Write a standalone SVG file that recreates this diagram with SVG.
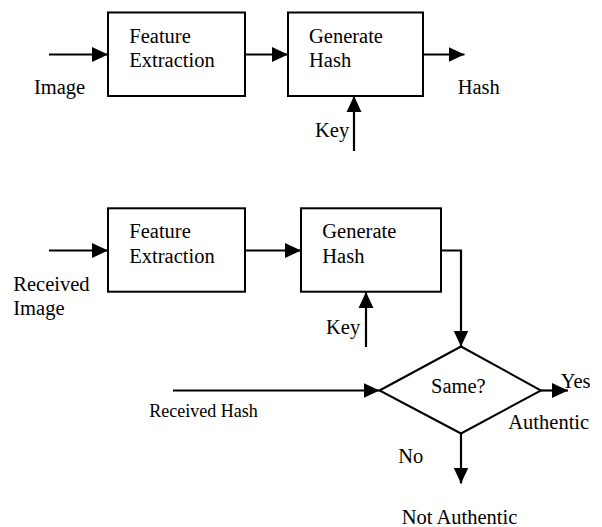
<svg xmlns="http://www.w3.org/2000/svg" width="602" height="527" viewBox="0 0 602 527">
  <style>
    .box { fill: #fff; stroke: #000; stroke-width: 2; }
    .wire { fill: none; stroke: #000; stroke-width: 2.2; }
    text { font-family: "Liberation Serif", "Times New Roman", serif; font-size: 20.5px; fill: #000; }
    .small { font-size: 18px; }
  </style>
  <defs>
    <marker id="head" markerUnits="userSpaceOnUse" markerWidth="16" markerHeight="16" viewBox="0 0 15 14" refX="15" refY="7" orient="auto">
      <path d="M0,0 L15,7 L0,14 z" fill="#000"/>
    </marker>
  </defs>

  <rect width="602" height="527" fill="#fff"/>

  <!-- hash generation -->
  <g id="feature-top">
    <rect class="box" x="108" y="12.5" width="137" height="83.5"/>
    <text x="129.3" y="42.7">Feature</text>
    <text x="129.3" y="66.7">Extraction</text>
  </g>
  <g id="hash-top">
    <rect class="box" x="288" y="12.5" width="135" height="83.5"/>
    <text x="309" y="42.7">Generate</text>
    <text x="309" y="66.7">Hash</text>
  </g>

  <!-- verification -->
  <g id="feature-bottom">
    <rect class="box" x="108" y="208.3" width="137" height="83.4"/>
    <text x="129.3" y="238.3">Feature</text>
    <text x="129.3" y="263.3">Extraction</text>
  </g>
  <g id="hash-bottom">
    <rect class="box" x="301" y="208.3" width="140" height="83.4"/>
    <text x="322.3" y="238.3">Generate</text>
    <text x="322.3" y="263.3">Hash</text>
  </g>
  <g id="compare">
    <polygon class="box" points="379.5,390.5 461,346.5 541,390.5 461,433.5"/>
    <text x="431" y="392.7">Same?</text>
  </g>

  <g id="connectors">
    <line class="wire" x1="49" y1="54.5" x2="108" y2="54.5" marker-end="url(#head)"/>
    <line class="wire" x1="245" y1="54.5" x2="288" y2="54.5" marker-end="url(#head)"/>
    <line class="wire" x1="423" y1="54.5" x2="464.5" y2="54.5" marker-end="url(#head)"/>
    <line class="wire" x1="354" y1="151" x2="354" y2="96" marker-end="url(#head)"/>

    <line class="wire" x1="49" y1="250.5" x2="108" y2="250.5" marker-end="url(#head)"/>
    <line class="wire" x1="245" y1="250.5" x2="301" y2="250.5" marker-end="url(#head)"/>
    <polyline class="wire" points="441,250.5 461,250.5 461,346.5" marker-end="url(#head)"/>
    <line class="wire" x1="366" y1="347" x2="366" y2="292" marker-end="url(#head)"/>

    <line class="wire" x1="173" y1="390.5" x2="379.5" y2="390.5" marker-end="url(#head)"/>
    <line class="wire" x1="541" y1="390.5" x2="568" y2="390.5" marker-end="url(#head)"/>
    <line class="wire" x1="461" y1="433.5" x2="461" y2="483.5" marker-end="url(#head)"/>
  </g>

  <g id="labels">
    <text x="34" y="94.3">Image</text>
    <text x="457.7" y="94.3">Hash</text>
    <text x="315" y="137">Key</text>
    <text x="13.3" y="291">Received</text>
    <text x="13.3" y="315">Image</text>
    <text x="326" y="334">Key</text>
    <text class="small" x="149.3" y="416.7">Received Hash</text>
    <text x="560.7" y="387.7">Yes</text>
    <text x="508.3" y="429.3">Authentic</text>
    <text x="398.3" y="463.3">No</text>
    <text x="401.7" y="523.5">Not Authentic</text>
  </g>
</svg>
